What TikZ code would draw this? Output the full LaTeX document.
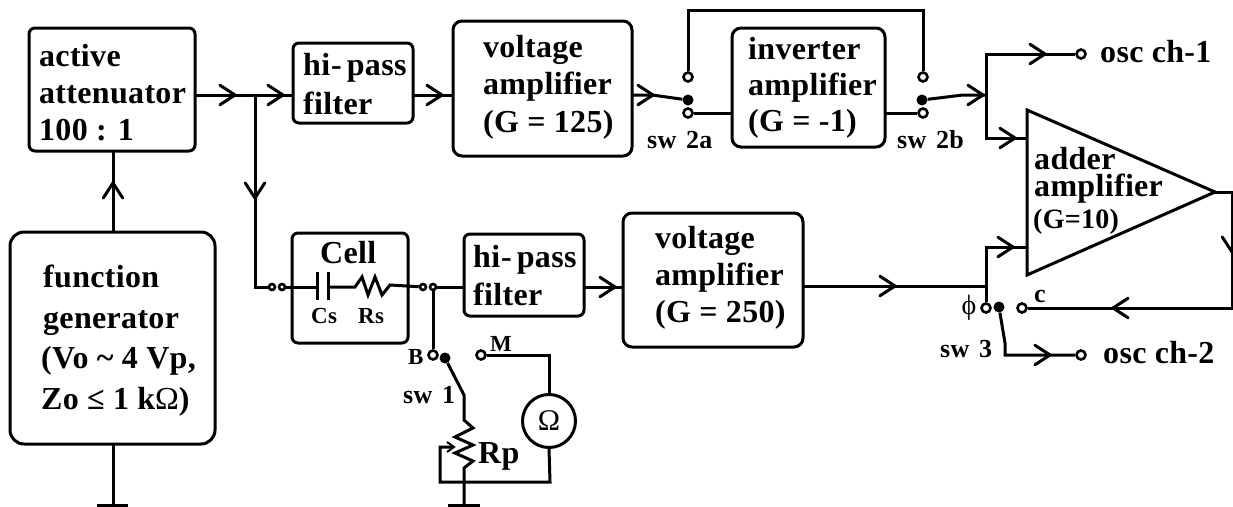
\documentclass[tikz,border=0pt]{standalone}
\usepackage{fontspec}
\setmainfont[LetterSpace=1]{Liberation Serif}
\newfontfamily\plainserif{Liberation Serif}
\tikzset{
 wire/.style={line width=3pt,line join=miter},
 blockbox/.style={draw,line width=3pt,rounded corners=9pt},
 lab/.style={font=\fontsize{32}{37}\selectfont\bfseries,align=left,inner sep=0pt},
 swlab/.style={font=\fontsize{26}{28}\selectfont\bfseries,inner sep=0pt,anchor=base west},
 tinylab/.style={font=\fontsize{23}{24}\selectfont\bfseries,inner sep=0pt,anchor=base west},
 opn/.style={circle,draw,line width=2.6pt,fill=white,minimum size=9pt,inner sep=0pt},
 smallopn/.style={opn,minimum size=6pt},
 fil/.style={circle,fill=black,minimum size=11pt,inner sep=0pt},
 chev/.style={line width=3pt,line cap=round}
}
\newcommand{\chevr}[3]{\draw[chev] (#1,#2) ++(#3+147:18) -- (#1,#2) -- ++(#3-147:18);}
\newcommand{\hipass}{hi\hspace{1pt}-\hspace{5pt}pass}
\begin{document}
\begin{tikzpicture}[x=1pt,y=-1pt]
\useasboundingbox (0,0) rectangle (1233,506);
% boxes
\draw[blockbox,rounded corners=6pt] (29,28) rectangle (195,151);
\draw[blockbox,rounded corners=14pt] (10,232) rectangle (215,444);
\draw[blockbox,rounded corners=6pt] (293,43) rectangle (413,123);
\draw[blockbox] (453,21) rectangle (632,156);
\draw[blockbox] (732,28) rectangle (885,147);
\draw[blockbox,rounded corners=6pt] (292,233) rectangle (408,343);
\draw[blockbox,rounded corners=6pt] (464,234) rectangle (584,316);
\draw[blockbox] (623,213) rectangle (803,347);
\draw[line width=3pt,line join=miter] (1027,110) -- (1215,192) -- (1027,275) -- cycle;
% labels
\node[lab,anchor=west] (att) at (39,93) {active\\attenuator\\100 : 1};
\node[lab,anchor=west,font=\fontsize{32}{40.7}\selectfont\bfseries] (fg) at (41,340.5) {\hspace{2pt}function\\\hspace{2pt}generator\\(Vo {\char"7E} 4 Vp,\\Zo ≤ 1 k{\mdseries Ω})};
\node[lab,anchor=west,font=\fontsize{32}{39}\selectfont\bfseries] (hp1) at (303,84) {\hipass\\filter};
\node[lab,anchor=west,font=\fontsize{32}{37.5}\selectfont\bfseries] (va1) at (483,87) {voltage\\amplifier\\(G = 125)};
\node[lab,anchor=west,font=\fontsize{32}{36}\selectfont\bfseries] (inv) at (748,88) {inverter\\amplifier\\(G = -1)};
\node[lab,anchor=base west] (cell) at (320,263) {Cell};
\node[tinylab] (cs) at (311,323) {Cs};
\node[tinylab] (rs) at (358,323) {Rs};
\node[lab,anchor=west,font=\fontsize{32}{38}\selectfont\bfseries] (hp2) at (473,275.5) {\hipass\\filter};
\node[lab,anchor=west] (va2) at (655,278) {voltage\\amplifier\\(G = 250)};
\node[lab,anchor=west,font=\fontsize{32}{27}\selectfont\bfseries] (add) at (1034,175) {adder\\amplifier};
\node[lab,anchor=base west,font=\fontsize{28}{30}\selectfont\bfseries] (add3) at (1033,228) {(G=10)};
\node[swlab] (s2a) at (647,148) {sw\hspace{3pt} 2a};
\node[swlab] (s2b) at (897,148) {sw\hspace{3pt} 2b};
\node[swlab] (s1) at (403,403) {sw\hspace{3pt} 1};
\node[swlab] (s3) at (940,357) {sw\hspace{3pt} 3};
\node[tinylab] (lb) at (408,364) {B};
\node[tinylab] (lm) at (490,351) {M};
\node[swlab] (lc) at (1034,302) {c};
\node[inner sep=0pt,font=\plainserif\fontsize{28}{28}\selectfont] (lphi) at (969,308) {ϕ};
\node[lab,anchor=base west] (rp) at (478,463) {Rp};
\node[lab,anchor=base west] (o1) at (1100,62) {osc ch-1};
\node[lab,anchor=base west] (o2) at (1103,363) {osc ch-2};
% terminals
\node[smallopn] (c1) at (272,287) {};
\node[smallopn] (c2) at (282,287) {};
\node[smallopn] (c3) at (423,287) {};
\node[smallopn] (c4) at (433,287) {};
\node[opn] (tb) at (433,355) {};
\node[fil] (fb) at (445,358) {};
\node[opn] (tm) at (481,355) {};
\node[opn] (a1) at (688,77) {};
\node[fil] (a2) at (688,100) {};
\node[opn] (a3) at (688,113) {};
\node[opn] (b1) at (923,77) {};
\node[fil] (b2) at (922,100) {};
\node[opn] (b3) at (923,113) {};
\node[opn] (t1) at (1081,54) {};
\node[opn] (t2) at (1081,355) {};
\node[opn] (tphi) at (986,308) {};
\node[fil] (fs3) at (999,307) {};
\node[opn] (tc) at (1022,308) {};
\node[circle,draw,line width=3pt,minimum size=53pt,inner sep=0pt,font=\plainserif\fontsize{30}{30}\selectfont] (ohm) at (549,421) {Ω};
% wires
\coordinate (jn) at (255,95);
\coordinate (jn2) at (255,287);
\coordinate (gnd1) at (113,505);
\coordinate (gnd2) at (464,505);
\coordinate (jrp) at (464,482);
\begin{scope}[wire]
\draw (113,232) -- (113,151);
\draw (113,444) -- (gnd1);
\draw (97,505) -- (128,505);
\draw (195,95) -- (293,95);
\draw (413,95) -- (453,95);
\draw (jn) -- (jn2) -- (c1);
\draw (c2) -- (317,287);
\draw (317,272) -- (317,300);
\draw (328,272) -- (328,300);
\draw (328,287) -- (355,287) -- (362,277) -- (368,295) -- (375,277) -- (382,295) -- (390,285) -- (c3);
\draw (c4) -- (464,287);
\draw (584,287) -- (623,287);
\draw (c4) -- (tb);
\draw (fb) -- (464,395) -- (464,420) -- (473,428) -- (455,437) -- (473,445) -- (455,453) -- (473,461) -- (464,468) -- (jrp) -- (gnd2);
\draw (448,505) -- (480,505);
\draw (tm) -- (549,355) -- (ohm.north);
\draw (ohm.south) -- (550,482) -- (440,482) -- (440,447) -- (452,447);
\draw[line width=2pt] (447,442) -- (454,447) -- (447,452);
\draw (632,95) -- (652,95) -- (a2);
\draw (a1) -- (688,10) -- (923,10) -- (b1);
\draw (a3) -- (732,113);
\draw (885,113) -- (b3);
\draw (b2) -- (963,95) -- (986,95);
\draw (t1) -- (986,54) -- (986,138) -- (1027,138);
\draw (803,286) -- (986,286);
\draw (tphi) -- (986,247) -- (1027,247);
\draw (1215,192) -- (1232,192) -- (1232,308) -- (tc);
\draw (fs3) -- (1005,343) -- (1005,355) -- (t2);
\end{scope}
% chevrons
\chevr{235}{95}{0}
\chevr{283}{95}{0}
\chevr{442}{95}{0}
\chevr{653}{95}{0}
\chevr{255}{198}{90}
\chevr{113}{183}{-90}
\chevr{615}{287}{0}
\chevr{895}{286}{0}
\chevr{1045}{54}{0}
\chevr{983}{95}{0}
\chevr{1015}{138}{0}
\chevr{1013}{247}{0}
\chevr{1232}{252}{90}
\chevr{1113}{308}{180}
\chevr{1050}{355}{0}
\end{tikzpicture}
\end{document}
